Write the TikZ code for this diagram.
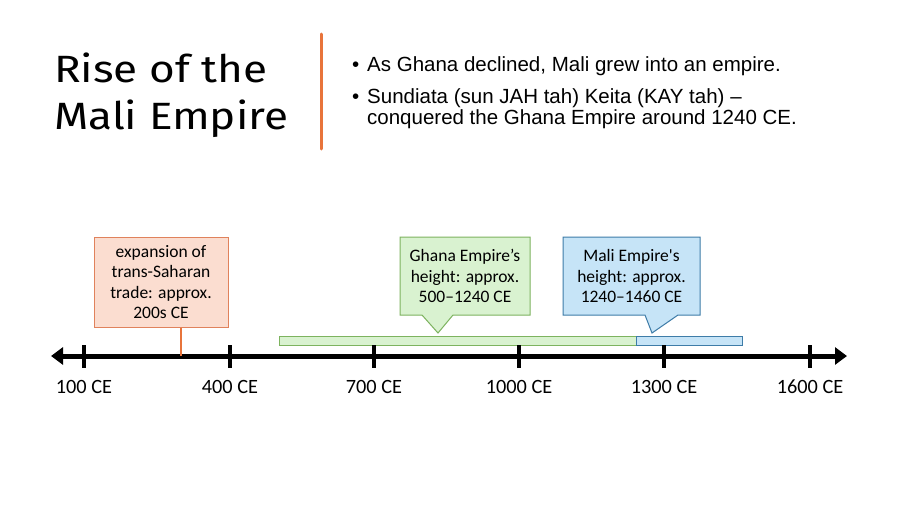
\documentclass[tikz,border=0pt]{standalone}
\usepackage{fontspec}
\setmainfont{Carlito}
\newfontfamily\titlefont[FakeStretch=1.16]{Fira Sans}
\newfontfamily\bulletfont{Liberation Sans}
\usetikzlibrary{arrows.meta}
\definecolor{orangeln}{HTML}{E8743B}
\definecolor{orfill}{HTML}{FBDDD0}
\definecolor{ordraw}{HTML}{E0825C}
\definecolor{grfill}{HTML}{D9F2D0}
\definecolor{grdraw}{HTML}{7DB35F}
\definecolor{blfill}{HTML}{C6E4F7}
\definecolor{bldraw}{HTML}{3E7CA8}
\tikzset{
  titletxt/.style={anchor=base west, inner sep=0pt, font=\titlefont\fontsize{38}{38}\selectfont},
  bullettxt/.style={anchor=base west, inner sep=0pt, font=\bulletfont\fontsize{20.5}{21}\selectfont},
  boxtxt/.style={align=center, inner sep=0pt, font=\fontsize{17.5}{20.5}\selectfont},
  yeartxt/.style={anchor=base, inner sep=0pt, font=\fontsize{20.3}{20}\selectfont},
  tick/.style={line width=4.5pt},
}
\begin{document}
\begin{tikzpicture}[x=1pt,y=-1pt]
\useasboundingbox[fill=white] (0,0) rectangle (900,506);
% title
\node[titletxt] (title1) at (54,82) {Rise of the};
\node[titletxt] (title2) at (54,129) {Mali Empire};
\draw[orangeln, line width=3pt, line cap=round] (321,34) -- (321,149);
% bullets
\node[bullettxt] (b1dot) at (352,71) {•};
\node[bullettxt] (b1) at (367,71) {As Ghana declined, Mali grew into an empire.};
\node[bullettxt] (b2dot) at (352,103) {•};
\node[bullettxt] (b2) at (367,103) {Sundiata (sun JAH tah) Keita (KAY tah) –};
\node[bullettxt] (b3) at (367,124) {conquered the Ghana Empire around 1240 CE.};
% bars
\draw[grdraw, fill=grfill, line width=1pt] (279,336) rectangle (636,345);
\draw[bldraw, fill=blfill, line width=1pt] (636,336) rectangle (742,345);
% axis
\coordinate (axL) at (51,356);
\coordinate (axR) at (847,356);
\draw[line width=5pt, {Triangle[length=12pt,width=17pt]}-{Triangle[length=12pt,width=17pt]}] (axL) -- (axR);
\foreach \x/\lab [count=\i] in {84/100 CE,230/400 CE,374/700 CE,519/1000 CE,664/1300 CE,810/1600 CE}{
  \draw[tick] (\x,345) -- (\x,368);
  \node[yeartxt] (yr\i) at (\x,393) {\lab};
}
% orange box
\node[draw=ordraw, fill=orfill, line width=1pt, minimum width=134pt, minimum height=90pt, inner sep=0pt] (obox) at (161,282) {};
\node[boxtxt] (otxt) at (161,282) {expansion of\\trans-Saharan\\trade: approx.\\200s CE};
\coordinate (oend) at (181,356);
\draw[orangeln, line width=1.2pt] (obox.south -| oend) -- (oend);
% green callout
\draw[grdraw, fill=grfill, line width=1pt] (400,237) -- (530,237) -- (530,315) -- (453,315) -- (438,333) -- (422,315) -- (400,315) -- cycle;
\node[boxtxt] (gtxt) at (465,276) {Ghana Empire’s\\height: approx.\\500--1240 CE};
% blue callout
\draw[bldraw, fill=blfill, line width=1pt] (563,237) -- (700,237) -- (700,315) -- (678,315) -- (652,333) -- (645,315) -- (563,315) -- cycle;
\node[boxtxt] (btxt) at (631.5,276) {Mali Empire\textquotesingle s\\height: approx.\\1240--1460 CE};
\end{tikzpicture}
\end{document}
